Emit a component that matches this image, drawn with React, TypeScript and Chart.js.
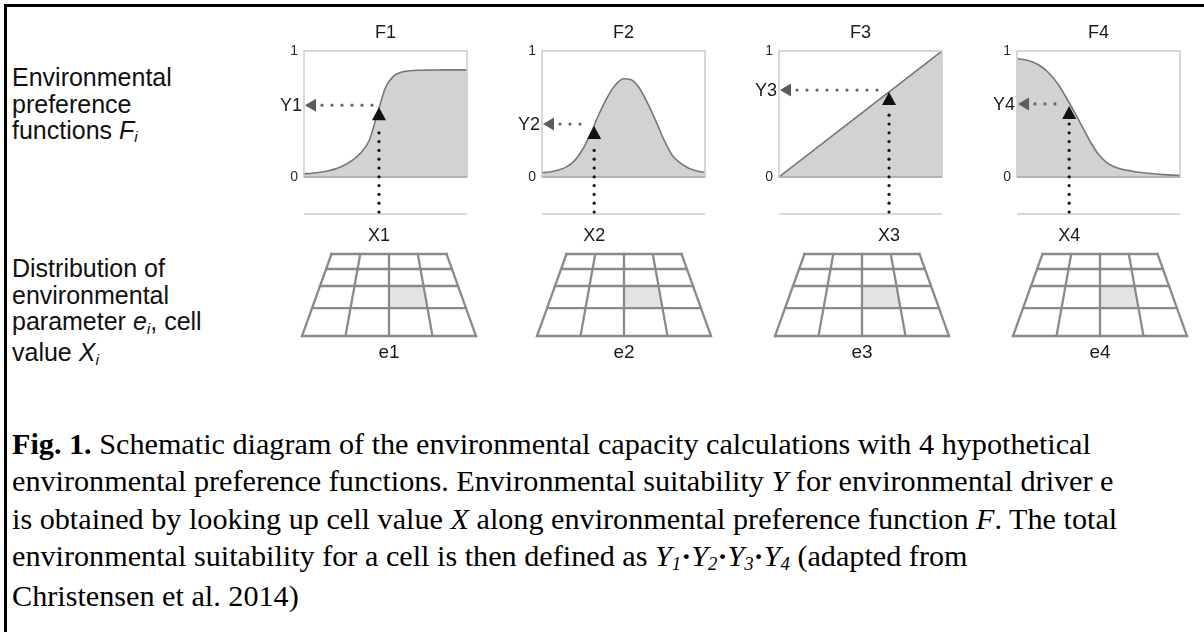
import React, { useEffect, useRef } from 'react';
import { Chart, registerables } from 'chart.js';

Chart.register(...registerables);

// ---------------- data ----------------
const panelTitles = ['F1', 'F2', 'F3', 'F4'];
const suitabilityLabels = ['Y1', 'Y2', 'Y3', 'Y4'];
const cellValueLabels = ['X1', 'X2', 'X3', 'X4'];
const parameterLabels = ['e1', 'e2', 'e3', 'e4'];
const tickValues = [0, 1];

const curveX = [0, 0.05, 0.1, 0.15, 0.2, 0.25, 0.3, 0.35, 0.4, 0.45, 0.5, 0.55, 0.6, 0.65, 0.7, 0.75, 0.8, 0.85, 0.9, 0.95, 1];
const f1Values = [0.025, 0.03, 0.038, 0.05, 0.068, 0.095, 0.135, 0.195, 0.29, 0.5, 0.71, 0.8, 0.833, 0.843, 0.847, 0.848, 0.849, 0.85, 0.85, 0.85, 0.85];
const f2Values = [0.035, 0.04, 0.055, 0.08, 0.13, 0.22, 0.35, 0.5, 0.63, 0.73, 0.78, 0.77, 0.7, 0.58, 0.44, 0.29, 0.17, 0.11, 0.07, 0.048, 0.035];
const f3X = [0, 1];
const f3Values = [0, 1];
const f4Values = [0.94, 0.93, 0.91, 0.875, 0.82, 0.74, 0.635, 0.52, 0.4, 0.28, 0.18, 0.115, 0.08, 0.06, 0.048, 0.038, 0.03, 0.024, 0.019, 0.015, 0.012];

const cellValueX = [0.46, 0.32, 0.675, 0.32];
const suitabilityY = [0.57, 0.42, 0.69, 0.58];

const gridRows = 4;
const gridCols = 4;
const highlightedRow = 2;
const highlightedCol = 2;

// ---------------- layout / style ----------------
const SANS = '"Liberation Sans", Arial, Helvetica, sans-serif';
const SERIF = '"Liberation Serif", "Times New Roman", Times, serif';

const BOX_LEFTS = [304, 542, 779, 1017];
const BOX_TOP = 51;
const BOX_W = 163;
const BOX_H = 126;
const AXIS_W = 50;
const CANVAS_H = 262;

const GRID_CENTERS = [389, 624, 862, 1100];
const GRID_TOP = 254;
const GRID_H = 82;
const GRID_TOP_W = 115;
const GRID_BOTTOM_W = 174;
const GRID_ROW_FRACTIONS = [0, 0.183, 0.39, 0.66, 1];
const GRID_PAD = 4;
const GRID_LABEL_SPACE = 32;

function dot(ctx: CanvasRenderingContext2D, x: number, y: number, r: number) {
  ctx.beginPath();
  ctx.arc(x, y, r, 0, Math.PI * 2);
  ctx.fill();
}

function FunctionPanel({ index }: { index: number }) {
  const ref = useRef<HTMLCanvasElement>(null);
  useEffect(() => {
    const canvas = ref.current;
    if (!canvas) return;
    const xs = index === 2 ? f3X : curveX;
    const ys = [f1Values, f2Values, f3Values, f4Values][index];
    const xv = cellValueX[index];
    const yv = suitabilityY[index];

    const lookupPlugin = {
      id: 'lookup' + index,
      afterDatasetsDraw(chart: any) {
        const { ctx, chartArea: a, scales } = chart;
        const px = scales.x.getPixelForValue(xv);
        const py = scales.y.getPixelForValue(yv);
        ctx.save();
        // frame
        ctx.strokeStyle = '#cbcbcb';
        ctx.lineWidth = 1.5;
        ctx.strokeRect(a.left, a.top, a.right - a.left, a.bottom - a.top);
        ctx.strokeStyle = '#a8a8a8';
        ctx.beginPath();
        ctx.moveTo(a.left, a.bottom);
        ctx.lineTo(a.right, a.bottom);
        ctx.stroke();

        // horizontal dotted lookup line
        ctx.fillStyle = '#666666';
        for (let x = a.left + 18; x <= px - 5; x += 10) dot(ctx, x, py, 1.6);
        // left arrow head
        ctx.fillStyle = '#5c5c5c';
        ctx.beginPath();
        ctx.moveTo(a.left + 1, py);
        ctx.lineTo(a.left + 12, py - 6.5);
        ctx.lineTo(a.left + 12, py + 6.5);
        ctx.closePath();
        ctx.fill();
        // Y label
        ctx.fillStyle = '#1a1a1a';
        ctx.font = `18px ${SANS}`;
        ctx.textAlign = 'right';
        ctx.textBaseline = 'middle';
        ctx.fillText(suitabilityLabels[index], a.left - 2, py + 1);

        // baseline under the panel
        const by = a.bottom + 37;
        ctx.strokeStyle = '#cbcbcb';
        ctx.lineWidth = 1.5;
        ctx.beginPath();
        ctx.moveTo(a.left, by);
        ctx.lineTo(a.right, by);
        ctx.stroke();

        // vertical dotted line
        ctx.fillStyle = '#111111';
        for (let y = by - 2; y >= py + 19; y -= 8.8) dot(ctx, px, y, 1.6);
        // up triangle
        ctx.beginPath();
        ctx.moveTo(px, py + 2);
        ctx.lineTo(px - 7, py + 15);
        ctx.lineTo(px + 7, py + 15);
        ctx.closePath();
        ctx.fill();

        // X label
        ctx.fillStyle = '#1a1a1a';
        ctx.textAlign = 'center';
        ctx.fillText(cellValueLabels[index], px, by + 22);

        // title
        ctx.fillText(panelTitles[index], (a.left + a.right) / 2, a.top - 18);
        ctx.restore();
      },
    };

    const chart = new Chart(canvas, {
      type: 'line',
      data: {
        datasets: [
          {
            data: xs.map((x, j) => ({ x, y: ys[j] })),
            borderColor: '#777777',
            borderWidth: 1.6,
            backgroundColor: '#d2d2d2',
            fill: 'origin',
            pointRadius: 0,
            cubicInterpolationMode: 'monotone',
          },
        ],
      },
      options: {
        responsive: false,
        animation: false,
        devicePixelRatio: 1,
        layout: { padding: { left: 0, right: 4, top: BOX_TOP, bottom: CANVAS_H - BOX_TOP - BOX_H } },
        plugins: { legend: { display: false }, tooltip: { enabled: false }, title: { display: false } },
        scales: {
          x: { type: 'linear', min: 0, max: 1, display: false },
          y: {
            type: 'linear',
            min: 0,
            max: 1,
            afterBuildTicks: (s: any) => {
              s.ticks = tickValues.map((v) => ({ value: v }));
            },
            afterFit: (s: any) => {
              s.width = AXIS_W;
            },
            ticks: { font: { family: SANS, size: 14 }, color: '#2a2a2a', padding: 6 },
            grid: { display: false, drawTicks: false },
            border: { display: false },
          },
        },
      } as any,
      plugins: [lookupPlugin],
    });
    return () => chart.destroy();
  }, [index]);

  const w = AXIS_W + BOX_W + 4;
  return (
    <canvas
      ref={ref}
      width={w}
      height={CANVAS_H}
      style={{ position: 'absolute', left: BOX_LEFTS[index] - AXIS_W, top: 0, width: w, height: CANVAS_H }}
    />
  );
}

function GridPanel({ index }: { index: number }) {
  const ref = useRef<HTMLCanvasElement>(null);
  useEffect(() => {
    const canvas = ref.current;
    if (!canvas) return;
    const halfW = (f: number) => (GRID_TOP_W + (GRID_BOTTOM_W - GRID_TOP_W) * f) / 2;
    const corner = (r: number, c: number) => {
      const f = GRID_ROW_FRACTIONS[r];
      const hw = halfW(f);
      return { x: -hw + (2 * hw * c) / gridCols, y: f * GRID_H };
    };
    const lineStyle = {
      showLine: true,
      pointRadius: 0,
      borderColor: '#8a8a8a',
      borderWidth: 2.3,
      borderCapStyle: 'square',
      clip: false,
      fill: false,
    };
    const datasets: any[] = [];
    for (let r = 0; r <= gridRows; r++) {
      datasets.push({ ...lineStyle, data: [corner(r, 0), corner(r, gridCols)] });
    }
    for (let c = 0; c <= gridCols; c++) {
      datasets.push({ ...lineStyle, data: [corner(0, c), corner(gridRows, c)] });
    }

    const cellPlugin = {
      id: 'cell' + index,
      beforeDatasetsDraw(chart: any) {
        const { ctx, scales } = chart;
        const pts = [
          corner(highlightedRow, highlightedCol),
          corner(highlightedRow, highlightedCol + 1),
          corner(highlightedRow + 1, highlightedCol + 1),
          corner(highlightedRow + 1, highlightedCol),
        ];
        ctx.save();
        ctx.fillStyle = '#e3e3e3';
        ctx.beginPath();
        pts.forEach((p, k) => {
          const x = scales.x.getPixelForValue(p.x);
          const y = scales.y.getPixelForValue(p.y);
          if (k === 0) ctx.moveTo(x, y);
          else ctx.lineTo(x, y);
        });
        ctx.closePath();
        ctx.fill();
        ctx.restore();
      },
      afterDatasetsDraw(chart: any) {
        const { ctx, chartArea: a } = chart;
        ctx.save();
        ctx.fillStyle = '#1a1a1a';
        ctx.font = `19px ${SANS}`;
        ctx.textAlign = 'center';
        ctx.textBaseline = 'middle';
        ctx.fillText(parameterLabels[index], (a.left + a.right) / 2, a.bottom + 17);
        ctx.restore();
      },
    };

    const chart = new Chart(canvas, {
      type: 'scatter',
      data: { datasets },
      options: {
        responsive: false,
        animation: false,
        devicePixelRatio: 1,
        layout: { padding: { left: GRID_PAD, right: GRID_PAD, top: GRID_PAD, bottom: GRID_LABEL_SPACE } },
        plugins: { legend: { display: false }, tooltip: { enabled: false } },
        scales: {
          x: { type: 'linear', min: -GRID_BOTTOM_W / 2, max: GRID_BOTTOM_W / 2, display: false },
          y: { type: 'linear', min: 0, max: GRID_H, reverse: true, display: false },
        },
      } as any,
      plugins: [cellPlugin],
    });
    return () => chart.destroy();
  }, [index]);

  const w = GRID_BOTTOM_W + 2 * GRID_PAD;
  const h = GRID_H + GRID_PAD + GRID_LABEL_SPACE;
  return (
    <canvas
      ref={ref}
      width={w}
      height={h}
      style={{
        position: 'absolute',
        left: GRID_CENTERS[index] - GRID_BOTTOM_W / 2 - GRID_PAD,
        top: GRID_TOP - GRID_PAD,
        width: w,
        height: h,
      }}
    />
  );
}

const subStyle: React.CSSProperties = { fontSize: '0.62em', position: 'relative', top: '0.22em' };

export default function App() {
  const idx = [0, 1, 2, 3];
  return (
    <div
      style={{
        position: 'fixed',
        left: 0,
        top: 0,
        width: 1204,
        height: 632,
        background: '#ffffff',
        overflow: 'hidden',
      }}
    >
      <div style={{ position: 'absolute', left: 4, top: 4, width: 1200, height: 3, background: '#000' }} />
      <div style={{ position: 'absolute', left: 4, top: 4, width: 3, height: 628, background: '#000' }} />

      <div
        style={{
          position: 'absolute',
          left: 12,
          top: 64,
          font: `25px ${SANS}`,
          lineHeight: '26.5px',
          color: '#111',
          whiteSpace: 'nowrap',
        }}
      >
        Environmental
        <br />
        preference
        <br />
        functions{' '}
        <i>
          F<span style={subStyle}>i</span>
        </i>
      </div>

      <div
        style={{
          position: 'absolute',
          left: 12,
          top: 255,
          font: `25px ${SANS}`,
          lineHeight: '26.7px',
          color: '#111',
          whiteSpace: 'nowrap',
        }}
      >
        Distribution of
        <br />
        environmental
        <br />
        parameter{' '}
        <i>
          e<span style={subStyle}>i</span>
        </i>
        , cell
        <br />
        value{' '}
        <i>
          X<span style={subStyle}>i</span>
        </i>
      </div>

      {idx.map((i) => (
        <FunctionPanel key={'f' + i} index={i} />
      ))}
      {idx.map((i) => (
        <GridPanel key={'g' + i} index={i} />
      ))}

      <div
        style={{
          position: 'absolute',
          left: 12,
          top: 426,
          font: `30.2px ${SERIF}`,
          lineHeight: '37.3px',
          color: '#000',
          whiteSpace: 'nowrap',
        }}
      >
        <div>
          <b>Fig. 1.</b> Schematic diagram of the environmental capacity calculations with 4 hypothetical
        </div>
        <div>
          environmental preference functions. Environmental suitability <i>Y</i> for environmental driver e
        </div>
        <div>
          is obtained by looking up cell value <i>X</i> along environmental preference function <i>F</i>. The total
        </div>
        <div>
          environmental suitability for a cell is then defined as{' '}
          <i>
            Y<span style={subStyle}>1</span>
          </i>
          <b>·</b>
          <i>
            Y<span style={subStyle}>2</span>
          </i>
          <b>·</b>
          <i>
            Y<span style={subStyle}>3</span>
          </i>
          <b>·</b>
          <i>
            Y<span style={subStyle}>4</span>
          </i>{' '}
          (adapted from
        </div>
        <div>Christensen et al. 2014)</div>
      </div>
    </div>
  );
}
